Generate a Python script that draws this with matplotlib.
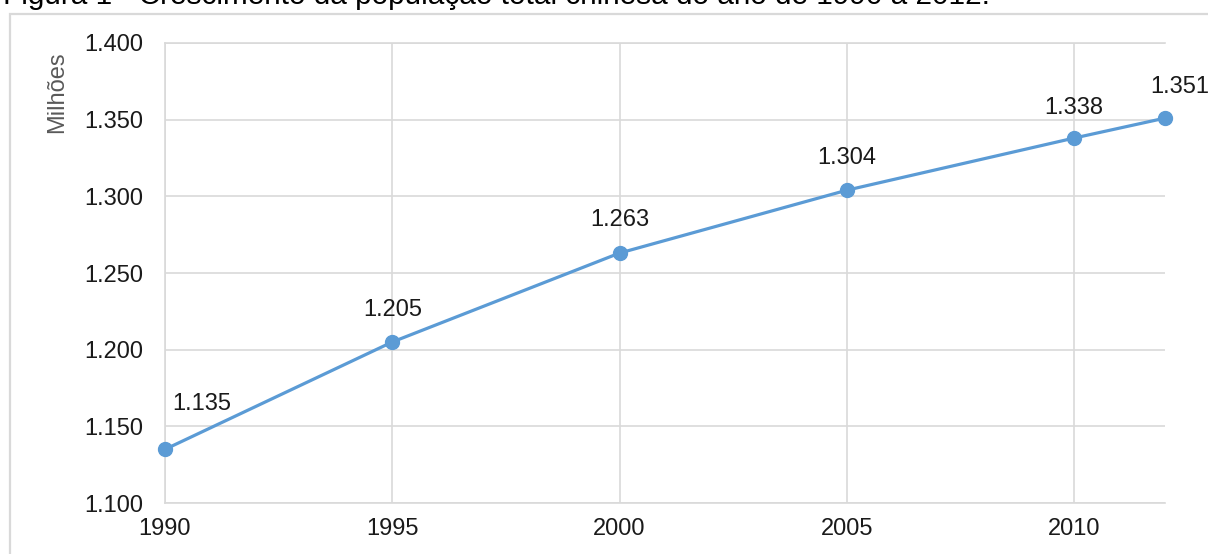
import matplotlib.pyplot as plt
from matplotlib.patches import Rectangle

# população total (milhões)
anos = [1990, 1995, 2000, 2005, 2010, 2012]
populacao = [1135, 1205, 1263, 1304, 1338, 1351]
anos_ticks = [1990, 1995, 2000, 2005, 2010]
y_ticks = [1100, 1150, 1200, 1250, 1300, 1350, 1400]
titulo = "Figura 1 - Crescimento da população total chinesa do ano de 1990 à 2012."

plt.rcParams['font.family'] = ['Liberation Sans', 'DejaVu Sans']

def fmt(v):
    return f"{v:,}".replace(',', '.')

fig = plt.figure(figsize=(12.08, 5.54), dpi=100)
ax = fig.add_axes([165/1208, 1-503/554, 1000/1208, 460/554])

# moldura do gráfico
fig.patches.append(Rectangle((10/1208, -0.1), 1.2, 1-14/554+0.1,
                             transform=fig.transFigure, fill=False,
                             edgecolor='#d9d9d9', linewidth=1.6))
fig.text(3/1208, 1-4/554, titulo, fontsize=21.4, va='baseline', ha='left', color='black')

ax.plot(anos, populacao, color='#5b9bd5', linewidth=2.3, marker='o',
        markersize=10, clip_on=False, zorder=3)

# rótulos de dados (deslocamento em pixels)
offsets = [(37, 45), (0, 32), (0, 33), (0, 32), (0, 30), (15, 31)]
for a, p, (dx, dy) in zip(anos, populacao, offsets):
    ax.annotate(fmt(p), (a, p), xytext=(dx*0.72, dy*0.72), textcoords='offset points',
                ha='center', va='center', fontsize=17, color='#1a1a1a')

ax.set_xlim(1990, 2012)
ax.set_ylim(1100, 1400)
ax.set_xticks(anos_ticks)
ax.set_xticklabels([str(a) for a in anos_ticks])
ax.set_yticks(y_ticks)
ax.set_yticklabels([fmt(v) for v in y_ticks])
ax.tick_params(length=0, labelsize=17, labelcolor='#1a1a1a')
ax.tick_params(axis='y', pad=16)
ax.tick_params(axis='x', pad=11)
ax.grid(True, color='#d9d9d9', linewidth=1.2)
ax.set_axisbelow(True)
for s in ['top', 'right']:
    ax.spines[s].set_visible(False)
for s in ['left', 'bottom']:
    ax.spines[s].set_color('#d9d9d9')
    ax.spines[s].set_linewidth(1.2)
ax.plot([1990, 2012], [1400, 1400], color='#d9d9d9', linewidth=1.2, zorder=1, clip_on=False)

ax.set_ylabel('Milhões', fontsize=17, color='#595959')
ax.yaxis.set_label_coords(-0.097, 0.893)

fig.savefig('out.png', dpi=100)
